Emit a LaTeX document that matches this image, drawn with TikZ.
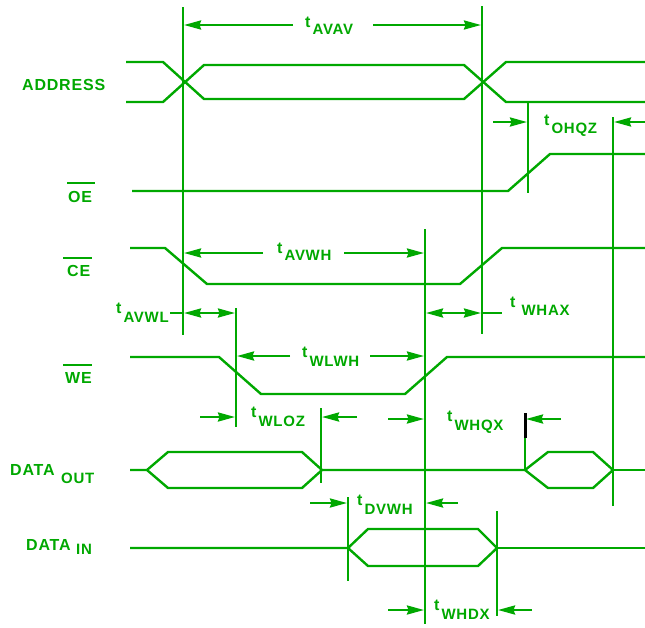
\documentclass[tikz,border=0pt]{standalone}
\usepackage{fontspec}
\setmainfont{Liberation Sans}
\newfontfamily\spfont[LetterSpace=5]{Liberation Sans}
\usetikzlibrary{arrows.meta}
\definecolor{tg}{RGB}{0,168,0}
\newcommand\mysub[2][7]{t\hspace{2pt}\raisebox{-#1pt}{\spfont\bfseries\fontsize{15}{15}\selectfont #2}}
\begin{document}
\begin{tikzpicture}[x=1pt,y=-1pt,
  sig/.style={draw=tg, line width=2.4pt, line join=miter},
  vl/.style={draw=tg, line width=2.4pt},
  dim/.style={draw=tg, line width=2.4pt, -{Stealth[length=17pt,width=9pt,inset=1.5pt]}},
  dd/.style={draw=tg, line width=2.4pt, {Stealth[length=17pt,width=9pt,inset=1.5pt]}-{Stealth[length=17pt,width=9pt,inset=1.5pt]}},
  lbl/.style={text=tg, font=\spfont\bfseries\fontsize{16}{16}\selectfont, inner sep=0pt, anchor=west},
  sub/.style={text=tg, font=\spfont\bfseries\fontsize{15}{15}\selectfont, inner sep=0pt, anchor=west},
  tl/.style={text=tg, font=\bfseries\fontsize{16}{16}\selectfont, inner sep=0pt, anchor=base west}]
\useasboundingbox (0,0) rectangle (645,627);
% ---- vertical reference lines
\coordinate (v1t) at (183,7);   \coordinate (v1b) at (183,335);
\coordinate (v2t) at (482,6);   \coordinate (v2b) at (482,334);
\coordinate (v3t) at (528,101); \coordinate (v3b) at (528,193);
\coordinate (v4t) at (613,117); \coordinate (v4b) at (613,506);
\coordinate (v5t) at (425,229); \coordinate (v5b) at (425,624);
\coordinate (v6t) at (236,308); \coordinate (v6b) at (236,427);
\coordinate (v7t) at (321,408); \coordinate (v7b) at (321,483);
\coordinate (v8t) at (348,497); \coordinate (v8b) at (348,581);
\coordinate (v9t) at (497,511); \coordinate (v9b) at (497,616);
\coordinate (v10t) at (525,413); \coordinate (v10m) at (525,438); \coordinate (v10b) at (525,470);
\foreach \a in {v1,v2,v3,v4,v5,v6,v7,v8,v9} \draw[vl] (\a t) -- (\a b);
\draw[draw=black, line width=3pt] (v10t) -- (v10m);
\draw[vl] (v10m) -- (v10b);
% ---- signals
% ADDRESS
\draw[sig] (126,62) -- (163,62) -- (204,99) -- (464,99) -- (506,62) -- (645,62);
\draw[sig] (126,102) -- (163,102) -- (204,65) -- (464,65) -- (506,102) -- (645,102);
% OE
\draw[sig] (132,191) -- (508,191) -- (550,154) -- (645,154);
% CE
\draw[sig] (130,248) -- (165,248) -- (207,284) -- (460,284) -- (502,248) -- (645,248);
% WE
\draw[sig] (130,357) -- (219,357) -- (261,394) -- (405,394) -- (447,357) -- (645,357);
% DATA OUT
\draw[sig] (130,470) -- (147,470) -- (168,452) -- (302,452) -- (322,470) -- (302,488) -- (168,488) -- (147,470);
\draw[sig] (322,470) -- (525,470) -- (548,452) -- (593,452) -- (613,470) -- (593,488) -- (548,488) -- (525,470);
\draw[sig] (613,470) -- (645,470);
% DATA IN
\draw[sig] (130,548) -- (348,548) -- (368,529) -- (478,529) -- (497,548) -- (478,566) -- (368,566) -- (348,548);
\draw[sig] (497,548) -- (645,548);
% ---- signal labels
\node[lbl] (address) at (22,85) {ADDRESS};
\node[lbl] (oe) at (68,197) {OE};
\node[lbl] (ce) at (67,271) {CE};
\node[lbl] (we) at (65,378) {WE};
\draw[vl] (67,183) -- (95,183);
\draw[vl] (63,258) -- (92,258);
\draw[vl] (63,365) -- (92,365);
\node[lbl] (dout) at (10,470) {DATA};
\node[sub] (doutsub) at (61,478) {OUT};
\node[lbl] (din) at (26,545) {DATA};
\node[sub] (dinsub) at (76,549) {IN};
% ---- timing dimensions
% tAVAV
\draw[dim] (293,25) -- (184,25);
\draw[dim] (373,25) -- (481,25);
\node[tl] (tavav) at (305,27) {\mysub{AVAV}};
% tOHQZ
\draw[dim] (493,122) -- (527,122);
\draw[dim] (645,122) -- (614,122);
\node[tl] (tohqz) at (544,125) {\mysub[8]{OHQZ}};
% tAVWH
\draw[dim] (263,253) -- (184,253);
\draw[dim] (344,253) -- (424,253);
\node[tl] (tavwh) at (277,253) {\mysub{AVWH}};
% tAVWL
\draw[vl] (170,313) -- (184,313);
\draw[dd] (184,313) -- (235,313);
\node[tl] (tavwl) at (116,313) {\mysub[9]{AVWL}};
% tWHAX
\draw[dd] (426,313) -- (481,313);
\draw[vl] (481,313) -- (502,313);
\node[tl] (twhax) at (510,307) {t\hspace{6pt}\raisebox{-8pt}{\spfont\bfseries\fontsize{15}{15}\selectfont WHAX}};
% tWLWH
\draw[dim] (290,356) -- (237,356);
\draw[dim] (370,356) -- (424,356);
\node[tl] (twlwh) at (302,357) {\mysub[9]{WLWH}};
% tWLOZ
\draw[dim] (200,417) -- (235,417);
\draw[dim] (357,417) -- (322,417);
\node[tl] (twloz) at (251,417) {\mysub[9]{WLOZ}};
% tWHQX
\draw[dim] (388,419) -- (424,419);
\draw[dim] (561,419) -- (526,419);
\node[tl] (twhqx) at (447,421) {\mysub[9]{WHQX}};
% tDVWH
\draw[dim] (310,503) -- (347,503);
\draw[dim] (458,503) -- (426,503);
\node[tl] (tdvwh) at (357,505) {\mysub[9]{DVWH}};
% tWHDX
\draw[dim] (388,610) -- (424,610);
\draw[dim] (532,610) -- (498,610);
\node[tl] (twhdx) at (434,610) {\mysub[9]{WHDX}};
\end{tikzpicture}
\end{document}
